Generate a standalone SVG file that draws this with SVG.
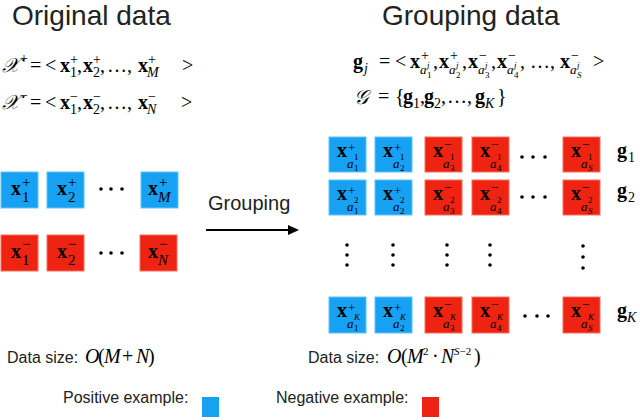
<svg xmlns="http://www.w3.org/2000/svg" width="640" height="420" viewBox="0 0 640 420">
<style>
.m{font-family:"Liberation Serif","Times New Roman",serif;font-size:20px;fill:#000}
.b{font-weight:bold}
.i{font-style:italic}
.scr{font-family:"DejaVu Serif","DejaVu Sans","Noto Sans",serif;font-style:italic;font-size:20px}
.t{font-family:"Liberation Sans",Arial,sans-serif;fill:#222}
.pos{fill:#17A1F2;stroke:#62C2F8;stroke-width:1}
.neg{fill:#EE2312;stroke:#F3705F;stroke-width:1}
.dot{fill:#000}
</style>
<rect width="640" height="420" fill="#fff"/>

<!-- titles -->
<text class="t" x="12" y="25" font-size="28">Original data</text>
<text class="t" x="382" y="25" font-size="28">Grouping data</text>

<!-- left formulas -->
<text class="m">
<tspan x="2" y="72" class="scr">𝒳</tspan><tspan x="20" y="63" font-size="14">+</tspan>
<tspan x="30" y="72">=</tspan><tspan x="45" y="72">&lt;</tspan>
<tspan x="60" y="72" class="b">x</tspan><tspan x="70" y="64" font-size="14">+</tspan><tspan x="70" y="77" font-size="14">1</tspan><tspan x="77" y="72">,</tspan>
<tspan x="83" y="72" class="b">x</tspan><tspan x="93" y="64" font-size="14">+</tspan><tspan x="93" y="77" font-size="14">2</tspan><tspan x="100" y="72">,</tspan>
<tspan x="107" y="72">…,</tspan>
<tspan x="138" y="72" class="b">x</tspan><tspan x="148" y="64" font-size="14">+</tspan><tspan x="147" y="77" font-size="14" class="i">M</tspan>
<tspan x="182" y="72">&gt;</tspan>
</text>
<text class="m">
<tspan x="2" y="109" class="scr">𝒳</tspan><tspan x="20" y="100" font-size="14">−</tspan>
<tspan x="30" y="109">=</tspan><tspan x="45" y="109">&lt;</tspan>
<tspan x="60" y="109" class="b">x</tspan><tspan x="70" y="101" font-size="14">−</tspan><tspan x="70" y="114" font-size="14">1</tspan><tspan x="77" y="109">,</tspan>
<tspan x="83" y="109" class="b">x</tspan><tspan x="93" y="101" font-size="14">−</tspan><tspan x="93" y="114" font-size="14">2</tspan><tspan x="100" y="109">,</tspan>
<tspan x="107" y="109">…,</tspan>
<tspan x="138" y="109" class="b">x</tspan><tspan x="148" y="101" font-size="14">−</tspan><tspan x="147" y="114" font-size="14" class="i">N</tspan>
<tspan x="181" y="109">&gt;</tspan>
</text>

<!-- right formulas -->
<text class="m">
<tspan x="353" y="68" class="b">g</tspan><tspan x="364" y="73" font-size="14" class="i">j</tspan>
<tspan x="379" y="68">=</tspan><tspan x="395" y="68">&lt;</tspan>
<tspan x="410" y="68" class="b">x</tspan><tspan x="421" y="60" font-size="14">+</tspan><tspan x="420" y="74" font-size="13" class="i">a</tspan><tspan x="427" y="68" font-size="9" class="i">j</tspan><tspan x="427" y="78" font-size="9">1</tspan><tspan x="433" y="68">,</tspan>
<tspan x="439" y="68" class="b">x</tspan><tspan x="450" y="60" font-size="14">+</tspan><tspan x="449" y="74" font-size="13" class="i">a</tspan><tspan x="456" y="68" font-size="9" class="i">j</tspan><tspan x="456" y="78" font-size="9">2</tspan><tspan x="462" y="68">,</tspan>
<tspan x="468" y="68" class="b">x</tspan><tspan x="479" y="60" font-size="14">−</tspan><tspan x="478" y="74" font-size="13" class="i">a</tspan><tspan x="485" y="68" font-size="9" class="i">j</tspan><tspan x="485" y="78" font-size="9">3</tspan><tspan x="491" y="68">,</tspan>
<tspan x="497" y="68" class="b">x</tspan><tspan x="508" y="60" font-size="14">−</tspan><tspan x="507" y="74" font-size="13" class="i">a</tspan><tspan x="514" y="68" font-size="9" class="i">j</tspan><tspan x="514" y="78" font-size="9">4</tspan><tspan x="520" y="68">,</tspan>
<tspan x="530" y="68">…,</tspan>
<tspan x="560" y="68" class="b">x</tspan><tspan x="571" y="60" font-size="14">−</tspan><tspan x="570" y="74" font-size="13" class="i">a</tspan><tspan x="577" y="68" font-size="9" class="i">j</tspan><tspan x="577" y="78" font-size="9" class="i">S</tspan>
<tspan x="593" y="68">&gt;</tspan>
</text>
<text class="m">
<tspan x="354" y="104" class="scr">𝒢</tspan>
<tspan x="378" y="103">=</tspan><tspan x="395" y="103">{</tspan>
<tspan x="403" y="103" class="b">g</tspan><tspan x="413" y="108" font-size="14">1</tspan><tspan x="420" y="103">,</tspan>
<tspan x="424" y="103" class="b">g</tspan><tspan x="434" y="108" font-size="14">2</tspan><tspan x="441" y="103">,</tspan>
<tspan x="447" y="103">…,</tspan>
<tspan x="475" y="103" class="b">g</tspan><tspan x="485" y="108" font-size="14" class="i">K</tspan>
<tspan x="497" y="103">}</tspan>
</text>

<!-- left nodes -->
<g id="pos1"><rect class="pos" x="1" y="172" width="37" height="36"/><text class="m"><tspan x="11" y="195" class="b" font-size="20">x</tspan><tspan x="22" y="187" font-size="15">+</tspan><tspan x="22" y="202" font-size="15">1</tspan></text></g>
<g id="pos2"><rect class="pos" x="47" y="172" width="37" height="36"/><text class="m"><tspan x="57" y="195" class="b" font-size="20">x</tspan><tspan x="68" y="187" font-size="15">+</tspan><tspan x="68" y="202" font-size="15">2</tspan></text></g>
<g id="posM"><rect class="pos" x="141" y="172" width="37" height="36"/><text class="m"><tspan x="148" y="195" class="b" font-size="20">x</tspan><tspan x="159" y="187" font-size="15">+</tspan><tspan x="158" y="202" font-size="15" class="i">M</tspan></text></g>
<g id="neg1"><rect class="neg" x="1" y="235" width="37" height="36"/><text class="m"><tspan x="11" y="258" class="b" font-size="20">x</tspan><tspan x="22" y="249" font-size="15">−</tspan><tspan x="22" y="265" font-size="15">1</tspan></text></g>
<g id="neg2"><rect class="neg" x="47" y="235" width="37" height="36"/><text class="m"><tspan x="57" y="258" class="b" font-size="20">x</tspan><tspan x="68" y="249" font-size="15">−</tspan><tspan x="68" y="265" font-size="15">2</tspan></text></g>
<g id="negN"><rect class="neg" x="140" y="235" width="37" height="36"/><text class="m"><tspan x="148" y="258" class="b" font-size="20">x</tspan><tspan x="159" y="249" font-size="15">−</tspan><tspan x="158" y="265" font-size="15" class="i">N</tspan></text></g>
<g id="ldots">
<circle class="dot" cx="101" cy="189" r="1.8"/><circle class="dot" cx="111" cy="189" r="1.8"/><circle class="dot" cx="122" cy="189" r="1.8"/>
<circle class="dot" cx="101" cy="253" r="1.8"/><circle class="dot" cx="111" cy="253" r="1.8"/><circle class="dot" cx="122" cy="253" r="1.8"/>
</g>

<!-- connector -->
<g id="connectors">
<line x1="206" y1="230" x2="290" y2="230" stroke="#000" stroke-width="2"/>
<polygon points="288,225 299,230 288,235" fill="#000"/>
<text class="t" x="208" y="210" font-size="20">Grouping</text>
</g>

<!-- right grid row 1 -->
<g id="r1c1"><rect class="pos" x="329" y="137" width="37" height="35"/><text class="m"><tspan x="337" y="157" class="b" font-size="20">x</tspan><tspan x="348" y="152" font-size="13">+</tspan><tspan x="347" y="168" font-size="13" class="i">a</tspan><tspan x="354" y="160" font-size="9">1</tspan><tspan x="354" y="171" font-size="9">1</tspan></text></g>
<g id="r1c2"><rect class="pos" x="375" y="137" width="37" height="35"/><text class="m"><tspan x="383" y="157" class="b" font-size="20">x</tspan><tspan x="394" y="152" font-size="13">+</tspan><tspan x="393" y="168" font-size="13" class="i">a</tspan><tspan x="400" y="160" font-size="9">1</tspan><tspan x="400" y="171" font-size="9">2</tspan></text></g>
<g id="r1c3"><rect class="neg" x="425" y="137" width="37" height="35"/><text class="m"><tspan x="433" y="157" class="b" font-size="20">x</tspan><tspan x="444" y="149" font-size="13">−</tspan><tspan x="443" y="168" font-size="13" class="i">a</tspan><tspan x="450" y="160" font-size="9">1</tspan><tspan x="450" y="171" font-size="9">3</tspan></text></g>
<g id="r1c4"><rect class="neg" x="472" y="137" width="37" height="35"/><text class="m"><tspan x="480" y="157" class="b" font-size="20">x</tspan><tspan x="491" y="149" font-size="13">−</tspan><tspan x="490" y="168" font-size="13" class="i">a</tspan><tspan x="497" y="160" font-size="9">1</tspan><tspan x="497" y="171" font-size="9">4</tspan></text></g>
<g id="r1c5"><rect class="neg" x="563" y="137" width="37" height="35"/><text class="m"><tspan x="571" y="157" class="b" font-size="20">x</tspan><tspan x="582" y="149" font-size="13">−</tspan><tspan x="581" y="168" font-size="13" class="i">a</tspan><tspan x="588" y="160" font-size="9">1</tspan><tspan x="588" y="171" font-size="9" class="i">S</tspan></text></g>

<!-- right grid row 2 -->
<g id="r2c1"><rect class="pos" x="329" y="180" width="37" height="35"/><text class="m"><tspan x="337" y="200" class="b" font-size="20">x</tspan><tspan x="348" y="195" font-size="13">+</tspan><tspan x="347" y="211" font-size="13" class="i">a</tspan><tspan x="354" y="203" font-size="9">2</tspan><tspan x="354" y="214" font-size="9">1</tspan></text></g>
<g id="r2c2"><rect class="pos" x="375" y="180" width="37" height="35"/><text class="m"><tspan x="383" y="200" class="b" font-size="20">x</tspan><tspan x="394" y="195" font-size="13">+</tspan><tspan x="393" y="211" font-size="13" class="i">a</tspan><tspan x="400" y="203" font-size="9">2</tspan><tspan x="400" y="214" font-size="9">2</tspan></text></g>
<g id="r2c3"><rect class="neg" x="425" y="180" width="37" height="35"/><text class="m"><tspan x="433" y="200" class="b" font-size="20">x</tspan><tspan x="444" y="192" font-size="13">−</tspan><tspan x="443" y="211" font-size="13" class="i">a</tspan><tspan x="450" y="203" font-size="9">2</tspan><tspan x="450" y="214" font-size="9">3</tspan></text></g>
<g id="r2c4"><rect class="neg" x="472" y="180" width="37" height="35"/><text class="m"><tspan x="480" y="200" class="b" font-size="20">x</tspan><tspan x="491" y="192" font-size="13">−</tspan><tspan x="490" y="211" font-size="13" class="i">a</tspan><tspan x="497" y="203" font-size="9">2</tspan><tspan x="497" y="214" font-size="9">4</tspan></text></g>
<g id="r2c5"><rect class="neg" x="563" y="180" width="37" height="35"/><text class="m"><tspan x="571" y="200" class="b" font-size="20">x</tspan><tspan x="582" y="192" font-size="13">−</tspan><tspan x="581" y="211" font-size="13" class="i">a</tspan><tspan x="588" y="203" font-size="9">2</tspan><tspan x="588" y="214" font-size="9" class="i">S</tspan></text></g>

<!-- right grid row K -->
<g id="rKc1"><rect class="pos" x="329" y="297" width="37" height="36"/><text class="m"><tspan x="337" y="317" class="b" font-size="20">x</tspan><tspan x="348" y="312" font-size="13">+</tspan><tspan x="347" y="328" font-size="13" class="i">a</tspan><tspan x="354" y="320" font-size="9" class="i">K</tspan><tspan x="354" y="331" font-size="9">1</tspan></text></g>
<g id="rKc2"><rect class="pos" x="375" y="297" width="37" height="36"/><text class="m"><tspan x="383" y="317" class="b" font-size="20">x</tspan><tspan x="394" y="312" font-size="13">+</tspan><tspan x="393" y="328" font-size="13" class="i">a</tspan><tspan x="400" y="320" font-size="9" class="i">K</tspan><tspan x="400" y="331" font-size="9">2</tspan></text></g>
<g id="rKc3"><rect class="neg" x="425" y="297" width="37" height="36"/><text class="m"><tspan x="433" y="317" class="b" font-size="20">x</tspan><tspan x="444" y="309" font-size="13">−</tspan><tspan x="443" y="328" font-size="13" class="i">a</tspan><tspan x="450" y="320" font-size="9" class="i">K</tspan><tspan x="450" y="331" font-size="9">3</tspan></text></g>
<g id="rKc4"><rect class="neg" x="472" y="297" width="37" height="36"/><text class="m"><tspan x="480" y="317" class="b" font-size="20">x</tspan><tspan x="491" y="309" font-size="13">−</tspan><tspan x="490" y="328" font-size="13" class="i">a</tspan><tspan x="497" y="320" font-size="9" class="i">K</tspan><tspan x="497" y="331" font-size="9">4</tspan></text></g>
<g id="rKc5"><rect class="neg" x="563" y="297" width="37" height="36"/><text class="m"><tspan x="571" y="317" class="b" font-size="20">x</tspan><tspan x="582" y="309" font-size="13">−</tspan><tspan x="581" y="328" font-size="13" class="i">a</tspan><tspan x="588" y="320" font-size="9" class="i">K</tspan><tspan x="588" y="331" font-size="9" class="i">S</tspan></text></g>

<!-- dots in grid -->
<g id="rdots">
<circle class="dot" cx="522" cy="157" r="1.8"/><circle class="dot" cx="533" cy="157" r="1.8"/><circle class="dot" cx="545" cy="157" r="1.8"/>
<circle class="dot" cx="522" cy="197" r="1.8"/><circle class="dot" cx="533" cy="197" r="1.8"/><circle class="dot" cx="545" cy="197" r="1.8"/>
<circle class="dot" cx="525" cy="316" r="1.8"/><circle class="dot" cx="537" cy="316" r="1.8"/><circle class="dot" cx="548" cy="316" r="1.8"/>
<circle class="dot" cx="347" cy="245" r="1.8"/><circle class="dot" cx="347" cy="255" r="1.8"/><circle class="dot" cx="347" cy="265" r="1.8"/>
<circle class="dot" cx="393" cy="245" r="1.8"/><circle class="dot" cx="393" cy="255" r="1.8"/><circle class="dot" cx="393" cy="265" r="1.8"/>
<circle class="dot" cx="447" cy="245" r="1.8"/><circle class="dot" cx="447" cy="255" r="1.8"/><circle class="dot" cx="447" cy="265" r="1.8"/>
<circle class="dot" cx="490" cy="245" r="1.8"/><circle class="dot" cx="490" cy="255" r="1.8"/><circle class="dot" cx="490" cy="265" r="1.8"/>
<circle class="dot" cx="583" cy="246" r="1.8"/><circle class="dot" cx="583" cy="257" r="1.8"/><circle class="dot" cx="583" cy="268" r="1.8"/>
</g>

<!-- group labels -->
<g id="glabels">
<text class="m"><tspan x="617" y="157" class="b" font-size="20">g</tspan><tspan x="628" y="162" font-size="14">1</tspan></text>
<text class="m"><tspan x="617" y="197" class="b" font-size="20">g</tspan><tspan x="628" y="202" font-size="14">2</tspan></text>
<text class="m"><tspan x="617" y="317" class="b" font-size="20">g</tspan><tspan x="627" y="322" font-size="14" class="i">K</tspan></text>
</g>

<!-- data sizes -->
<text class="t" x="7" y="363" font-size="16">Data size:</text>
<text class="m" font-size="18"><tspan x="85" y="363" class="i">O</tspan><tspan x="98" y="363">(</tspan><tspan x="104" y="363" class="i">M</tspan><tspan x="122" y="363">+</tspan><tspan x="136" y="363" class="i">N</tspan><tspan x="148" y="363">)</tspan></text>
<text class="t" x="308" y="363" font-size="16">Data size:</text>
<text class="m" font-size="18"><tspan x="387" y="363" class="i">O</tspan><tspan x="401" y="363">(</tspan><tspan x="407" y="363" class="i">M</tspan><tspan x="423" y="355" font-size="11">2</tspan><tspan x="432" y="363">·</tspan><tspan x="441" y="363" class="i">N</tspan><tspan x="454" y="355" font-size="11" class="i">S</tspan><tspan y="355" font-size="11">−2</tspan><tspan x="474" y="363">)</tspan></text>

<!-- legend -->
<g id="legend-pos">
<text class="t" x="63" y="403" font-size="16">Positive example:</text>
<rect x="202" y="397" width="17" height="20" fill="#17A1F2"/>
</g>
<g id="legend-neg">
<text class="t" x="276" y="403" font-size="16">Negative example:</text>
<rect x="422" y="397" width="17" height="20" fill="#EE2312"/>
</g>
</svg>
